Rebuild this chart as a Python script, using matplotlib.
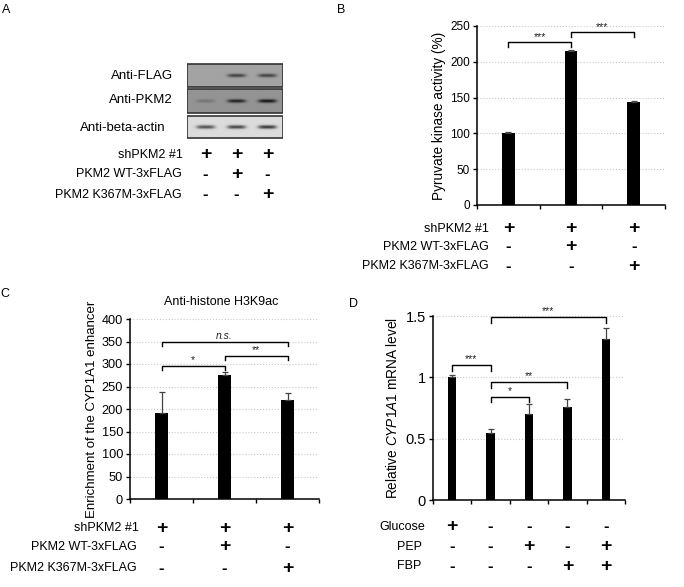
import numpy as np
import matplotlib
matplotlib.use('Agg')
import matplotlib.pyplot as plt
from matplotlib.transforms import blended_transform_factory
from matplotlib.patches import Rectangle

plt.rcParams['font.family'] = ['Liberation Sans', 'DejaVu Sans']
plt.rcParams['mathtext.fontset'] = 'custom'
plt.rcParams['mathtext.rm'] = 'Liberation Sans'
plt.rcParams['mathtext.it'] = 'Liberation Sans:italic'

# ---- данные ----
conds_3 = ['shPKM2 #1', 'PKM2 WT-3xFLAG', 'PKM2 K367M-3xFLAG']
sh_pkm2 = ['+', '+', '+']
pkm2_wt = ['-', '+', '-']
pkm2_k367m = ['-', '-', '+']

# блот: интенсивность полос по дорожкам
blot_rows = ['Anti-FLAG', 'Anti-PKM2', 'Anti-beta-actin']
flag_band = [0.0, 0.38, 0.38]
pkm2_band = [0.12, 0.45, 0.5]
actin_band = [0.55, 0.6, 0.65]
blot_bg = [0.64, 0.58, 0.86]

pk_activity = [100, 215, 144]
pk_err = [1.5, 2.0, 1.5]

h3k9ac = [191, 275, 221]
h3k9ac_err = [46, 8, 14]

cyp_mrna = [1.0, 0.55, 0.70, 0.76, 1.31]
cyp_err = [0.02, 0.03, 0.08, 0.06, 0.09]
conds_d = ['Glucose', 'PEP', 'FBP']
glucose = ['+', '-', '-', '-', '-']
pep = ['-', '-', '+', '-', '+']
fbp = ['-', '-', '-', '+', '+']

# скобки значимости: (бар1, бар2, высота, метка)
sig_b = [(0, 1, 227, '***'), (1, 2, 241, '***')]
sig_c = [(0, 1, 296, '*'), (1, 2, 318, '**'), (0, 2, 349, 'n.s.')]
sig_d = [(0, 1, 1.10, '***'), (1, 2, 0.84, '*'), (1, 3, 0.96, '**'), (1, 4, 1.49, '***')]

W, H = 684, 587
fig = plt.figure(figsize=(W / 100, H / 100), dpi=100)


def box(l, t, r, b):
    return [l / W, 1 - b / H, (r - l) / W, (b - t) / H]


def ftext(x, y, s, **kw):
    fig.text(x / W, 1 - y / H, s, **kw)


def sign_table(ax, cols, ys, label_x, label_ha, fs=9):
    tr = blended_transform_factory(ax.transData, fig.transFigure)
    for (name, signs), y, lx in zip(cols, ys, label_x):
        ftext(lx, y, name, ha=label_ha, va='center', fontsize=fs)
        for i, s in enumerate(signs):
            ax.text(i, 1 - y / H, s, transform=tr, ha='center', va='center',
                    fontsize=14 if s == '+' else 12, fontweight='bold')


def bar_panel(ax, vals, errs, ymax, step, fs_tick, width=0.2):
    x = np.arange(len(vals))
    ax.bar(x, vals, width=width, color='black', zorder=3)
    ax.errorbar(x, vals, yerr=[np.zeros(len(errs)), errs], fmt='none',
                ecolor='#444444', elinewidth=0.9, capsize=2.5, capthick=0.9, zorder=4)
    ax.set_xlim(-0.5, len(vals) - 0.5)
    ax.set_ylim(0, ymax)
    ax.set_yticks(np.arange(0, ymax + step / 2, step))
    ax.set_xticks(np.arange(len(vals) + 1) - 0.5)
    ax.set_xticklabels([])
    ax.yaxis.grid(True, color='#c8c8c8', linestyle=':', linewidth=0.8)
    ax.set_axisbelow(True)
    for s in ['top', 'right']:
        ax.spines[s].set_visible(False)
    ax.spines['left'].set_linewidth(1.1)
    ax.spines['bottom'].set_linewidth(1.1)
    ax.tick_params(axis='both', direction='out', length=3, width=1.0,
                   labelsize=fs_tick, pad=2)


def brackets(ax, sigs, drop, fs=7.5):
    for a, b, y, lab in sigs:
        ax.plot([a, a, b, b], [y - drop, y, y, y - drop], color='black', lw=1.0,
                clip_on=False, zorder=5)
        st = 'italic' if lab == 'n.s.' else 'normal'
        ax.text((a + b) / 2, y + drop * 0.15, lab, ha='center', va='bottom',
                fontsize=fs, style=st, color='#222222')


# ---- A: вестерн-блот ----
ftext(2, 10, 'A', ha='left', va='center', fontsize=9)
axa = fig.add_axes(box(187, 62, 283, 140))
axa.set_xlim(-0.6, 2.5)
axa.set_ylim(140, 62)
axa.axis('off')
strips = [(64, 87), (89, 113), (116, 138)]
xs = np.linspace(-0.6, 2.5, 200)
for (t, b), bands, bg in zip(strips, [flag_band, pkm2_band, actin_band], blot_bg):
    ys = np.linspace(t, b, 40)
    X, Y = np.meshgrid(xs, ys)
    img = np.full(X.shape, bg)
    yc = (t + b) / 2
    for i, v in enumerate(bands):
        img -= v * np.exp(-((X - i) / 0.3) ** 4) * np.exp(-((Y - yc) / 1.8) ** 2)
    axa.imshow(img, cmap='gray', vmin=0, vmax=1, extent=[-0.6, 2.5, b, t],
               aspect='auto', interpolation='bilinear')
    axa.add_patch(Rectangle((-0.6, t), 3.1, b - t, fill=False, edgecolor='#333333', lw=1.2))
ftext(173, 76, blot_rows[0], ha='right', va='center', fontsize=9.5)
ftext(173, 100, blot_rows[1], ha='right', va='center', fontsize=9.5)
ftext(166, 128, blot_rows[2], ha='right', va='center', fontsize=9.5)
sign_table(axa, zip(conds_3, [sh_pkm2, pkm2_wt, pkm2_k367m]), [155, 174, 195],
           [183, 182, 182], 'right')

# ---- B: активность пируваткиназы ----
ftext(337, 10, 'B', ha='left', va='center', fontsize=9)
axb = fig.add_axes(box(477, 26, 665, 205))
bar_panel(axb, pk_activity, pk_err, 250, 50, 8.5)
brackets(axb, sig_b, 6)
axb.set_ylabel('Pyruvate kinase activity (%)', fontsize=9.8, labelpad=3)
sign_table(axb, zip(conds_3, [sh_pkm2, pkm2_wt, pkm2_k367m]), [229, 247, 266],
           [489, 489, 489], 'right')

# ---- C: H3K9ac ChIP ----
ftext(0, 294, 'C', ha='left', va='center', fontsize=9)
axc = fig.add_axes(box(130, 319, 319, 499))
bar_panel(axc, h3k9ac, h3k9ac_err, 400, 50, 9.2, width=0.21)
brackets(axc, sig_c, 10)
axc.set_ylabel('Enrichment of the CYP1A1 enhancer', fontsize=9.5, labelpad=3)
ftext(221, 302, 'Anti-histone H3K9ac', ha='center', va='center', fontsize=9)
sign_table(axc, zip(conds_3, [sh_pkm2, pkm2_wt, pkm2_k367m]), [528, 547, 568],
           [139, 137, 137], 'right')

# ---- D: мРНК CYP1A1 ----
ftext(349, 304, 'D', ha='left', va='center', fontsize=9)
axd = fig.add_axes(box(433, 316, 625, 500))
bar_panel(axd, cyp_mrna, cyp_err, 1.5, 0.5, 10.5, width=0.22)
axd.set_yticklabels(['0', '0.5', '1', '1.5'])
brackets(axd, sig_d, 0.045)
axd.set_ylabel('Relative $\\mathit{CYP1A1}$ mRNA level', fontsize=9.8, labelpad=4)
sign_table(axd, zip(conds_d, [glucose, pep, fbp]), [527, 547, 566],
           [379, 397, 397], 'left')

fig.savefig('out.png', dpi=100, facecolor='white')
